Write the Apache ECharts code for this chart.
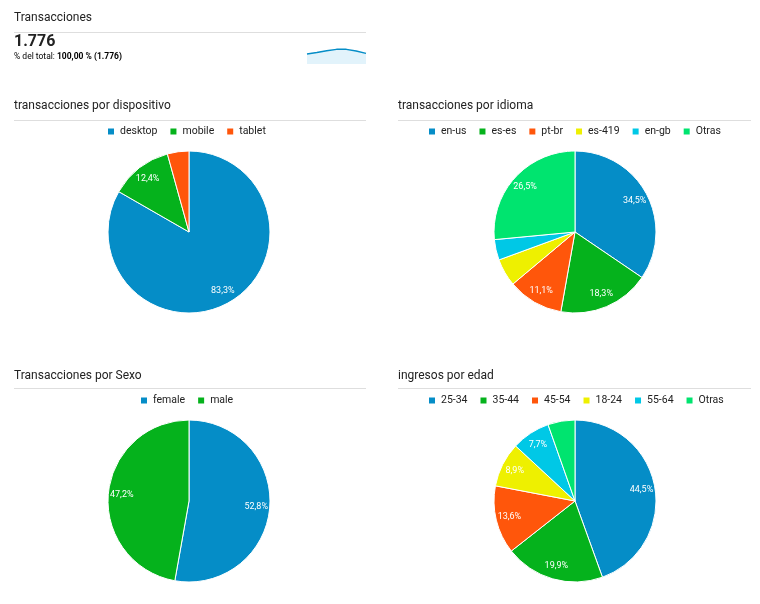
<!DOCTYPE html>
<html><head><meta charset="utf-8">
<script src="https://cdn.jsdelivr.net/npm/echarts@6/dist/echarts.min.js"></script>
<style>html,body{margin:0;padding:0;background:#fff}#c{width:760px;height:604px}</style>
</head><body><div id="c"></div>
<script>
const deviceCats = ['desktop', 'mobile', 'tablet'];
const deviceVals = [83.3, 12.4, 4.3];
const langCats = ['en-us', 'es-es', 'pt-br', 'es-419', 'en-gb', 'Otras'];
const langVals = [34.5, 18.3, 11.1, 5.5, 4.1, 26.5];
const sexCats = ['female', 'male'];
const sexVals = [52.8, 47.2];
const ageCats = ['25-34', '35-44', '45-54', '18-24', '55-64', 'Otras'];
const ageVals = [44.5, 19.9, 13.6, 8.9, 7.7, 5.4];
const sparkVals = [0.53, 0.60, 0.70, 0.77, 0.77, 0.68, 0.56];

const palette = ['#058dc7', '#05b21c', '#ff560b', '#eef000', '#00c8e6', '#00e46f'];
const FONT = 'Roboto, Arial, sans-serif';

const chart = echarts.init(document.getElementById('c'), null, {renderer: 'canvas'});

function toData(cats, vals, colored) {
  return cats.map((n, i) => ({name: n, value: vals[i],
    itemStyle: colored ? {color: palette[i]} : {color: 'rgba(0,0,0,0)'}}));
}
function fmt(p) { return p.value >= 7 ? p.value.toFixed(1).replace('.', ',') + '%' : ''; }

const pies = [
  {cats: deviceCats, vals: deviceVals, cx: 189, cy: 232},
  {cats: langCats, vals: langVals, cx: 575, cy: 232},
  {cats: sexCats, vals: sexVals, cx: 189, cy: 501},
  {cats: ageCats, vals: ageVals, cx: 575, cy: 501}
];

const series = [];
pies.forEach(p => {
  series.push({
    type: 'pie', center: [p.cx, p.cy], radius: [0, 81], startAngle: 90, clockwise: true,
    data: toData(p.cats, p.vals, true), label: {show: false}, labelLine: {show: false},
    itemStyle: {borderColor: '#fff', borderWidth: 1}, emphasis: {disabled: true}, silent: true, animation: false
  });
});
pies.forEach(p => {
  series.push({
    type: 'pie', center: [p.cx, p.cy], radius: [48, 81], startAngle: 90, clockwise: true,
    data: toData(p.cats, p.vals, false), silent: true, animation: false,
    itemStyle: {borderWidth: 0},
    label: {show: true, position: 'inside', formatter: fmt, color: '#fff', fontSize: 9, fontFamily: FONT},
    labelLine: {show: false}, emphasis: {disabled: true}
  });
});

series.push({
  type: 'line', xAxisIndex: 0, yAxisIndex: 0, data: sparkVals, symbol: 'none', silent: true, animation: false,
  lineStyle: {color: '#058dc7', width: 1.5}, areaStyle: {color: '#e2f3fb', opacity: 1}
});

function legend(cats, left, top) {
  return {data: cats, left: left, top: top, icon: 'rect', itemWidth: 8, itemHeight: 8, itemGap: 11,
    selectedMode: false, textStyle: {fontSize: 10.5, color: '#222', fontFamily: FONT}, padding: 0};
}

function txt(text, x, y, size, weight) {
  return {type: 'text', x: x, y: y, silent: true,
    style: {text: text, font: (weight || 'normal') + ' ' + size + 'px ' + FONT, fill: '#222', verticalAlign: 'middle'}};
}
function line(x1, x2, y) {
  return {type: 'line', silent: true, shape: {x1: x1, y1: y, x2: x2, y2: y}, style: {stroke: '#dedede', lineWidth: 1}};
}

chart.setOption({
  animation: false,
  grid: {left: 307, top: 45, width: 59, height: 19},
  xAxis: {type: 'category', show: false, boundaryGap: false, data: sparkVals.map((v, i) => i)},
  yAxis: {type: 'value', show: false, min: 0, max: 1},
  legend: [legend(deviceCats, 106, 126), legend(langCats, 427, 126), legend(sexCats, 139, 395), legend(ageCats, 427, 395)],
  series: series,
  graphic: [
    txt('Transacciones', 14, 18, 12),
    line(14, 366, 32.5),
    txt('1.776', 14, 41.5, 16, 'bold'),
    {type: 'text', x: 14, y: 57, silent: true, style: {
      text: '{a|% del total: }{b|100,00 % (1.776)}', verticalAlign: 'middle',
      rich: {a: {fontSize: 8.5, fontFamily: FONT, color: '#444'}, b: {fontSize: 8.5, fontFamily: FONT, color: '#333', fontWeight: 'bold'}}}},
    txt('transacciones por dispositivo', 14, 106, 12),
    line(14, 366, 120.5),
    txt('transacciones por idioma', 398, 106, 12),
    line(398, 751, 120.5),
    txt('Transacciones por Sexo', 14, 375.5, 12),
    line(14, 366, 388.5),
    txt('ingresos por edad', 398, 375.5, 12),
    line(398, 751, 388.5)
  ]
});
</script></body></html>
